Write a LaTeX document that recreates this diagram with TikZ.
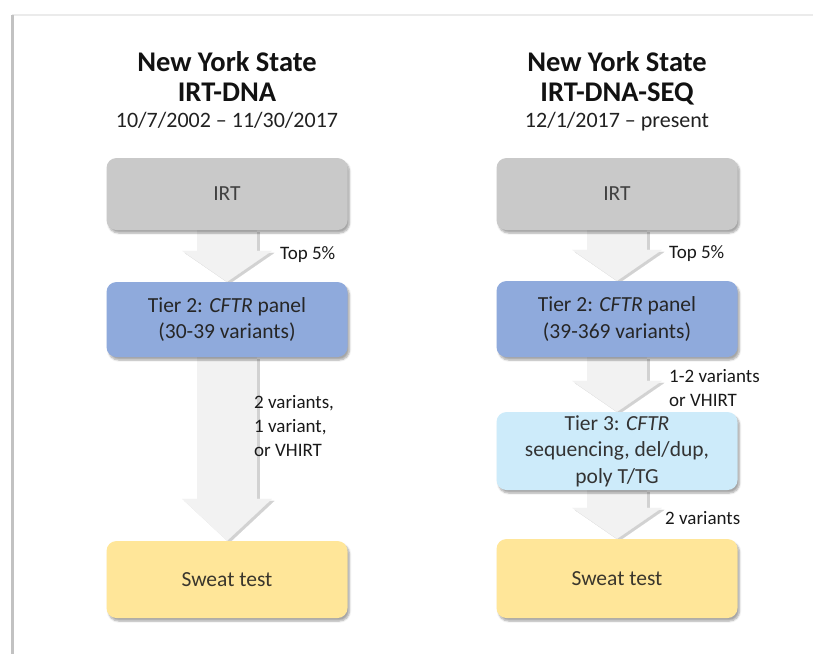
\documentclass[tikz,border=0pt]{standalone}
\usepackage{fontspec}
\setmainfont{Carlito}
\usetikzlibrary{arrows.meta,shadows.blur}
\pgfdeclarelayer{bg}
\pgfsetlayers{bg,main}

\definecolor{irtgrey}{HTML}{C9C9C9}
\definecolor{tiertwo}{HTML}{8FAADC}
\definecolor{tierthree}{HTML}{CDEBFA}
\definecolor{sweat}{HTML}{FFE699}
\definecolor{arrowfill}{HTML}{F2F2F2}
\definecolor{arrowshade}{HTML}{D2D2D2}
\definecolor{frameedge}{HTML}{C2C2C2}
\definecolor{frametop}{HTML}{EBEBEB}

\begin{document}
\begin{tikzpicture}[
  x=1pt, y=-1pt,
  box/.style={rounded corners=10pt, minimum width=241pt, minimum height=74pt,
    inner sep=2pt, align=center, font=\fontsize{21.5}{26.5}\selectfont,
    blur shadow={shadow xshift=2pt, shadow yshift=-3pt, shadow blur steps=6, shadow opacity=35}},
  head/.style={inner sep=0pt, font=\bfseries\fontsize{28.5}{30}\selectfont, text=black!93},
  span/.style={inner sep=0pt, font=\fontsize{22}{24}\selectfont, text=black!87},
  note/.style={inner sep=0pt, align=left, font=\fontsize{19}{24}\selectfont, text=black!90},
  flow/.style={line width=60pt, arrowfill, -{Triangle[width=90pt, length=#1, line width=0.01pt]}},
  flow/.default=31pt,
  flowshade/.style={flow=#1, arrowshade, transform canvas={xshift=2.5pt, yshift=-2pt}},
  flowshade/.default=31pt,
]

\def\colL{227}
\def\colR{617}

\useasboundingbox (0,0) rectangle (813,654);

% left column: IRT-DNA
\node[head, anchor=base] (titleLa) at (\colL,71)  {New York State};
\node[head, anchor=base] (titleLb) at (\colL,101) {IRT-DNA};
\node[span, anchor=base] (dateL)   at (\colL,127) {10/7/2002 -- 11/30/2017};

\node[box, fill=irtgrey, text=black!75, minimum height=72pt] (irtL)   at (\colL,194)   {IRT};
\node[box, fill=tiertwo, text=black!85, minimum height=75pt] (tierL)  at (\colL,319.5) {Tier 2: \textit{CFTR} panel\\(30-39 variants)};
\node[box, fill=sweat, text=black!78!olive, minimum height=77pt] (sweatL) at (\colL,579.5) {Sweat test};

\node[note, anchor=base west] (topL) at (280,259) {Top 5\%};
\node[note, anchor=west] (varL) at (254,426) {2 variants,\\1 variant,\\or VHIRT};

% right column: IRT-DNA-SEQ
\node[head, anchor=base] (titleRa) at (\colR,71)  {New York State};
\node[head, anchor=base] (titleRb) at (\colR,101) {IRT-DNA-SEQ};
\node[span, anchor=base] (dateR)   at (\colR,127) {12/1/2017 -- present};

\node[box, fill=irtgrey, text=black!75, minimum height=72pt] (irtR)    at (\colR,194) {IRT};
\node[box, fill=tiertwo, text=black!85, minimum height=76pt] (tierR)   at (\colR,319) {Tier 2: \textit{CFTR} panel\\(39-369 variants)};
\node[box, fill=tierthree, text=black!80, minimum height=78pt] (seqR)  at (\colR,451) {Tier 3: \textit{CFTR}\\sequencing, del/dup,\\poly T/TG};
\node[box, fill=sweat, text=black!78!olive, minimum height=79pt] (sweatR) at (\colR,578.5) {Sweat test};

\node[note, anchor=base west] (topR) at (669,258) {Top 5\%};
\node[note, anchor=west] (varR) at (669,388) {1-2 variants\\or VHIRT};
\node[note, anchor=base west] (twoR) at (665,524) {2 variants};

% block arrows and frame behind the boxes
\begin{pgfonlayer}{bg}
  \draw[frametop, line width=2pt] (12,15) -- (813,15);
  \draw[frameedge, line width=3pt] (12,15) -- (12,654);

  \draw[flowshade] (irtL) -- (tierL);
  \draw[flowshade=42pt] (tierL) -- (sweatL);
  \draw[flowshade] (irtR) -- (tierR);
  \draw[flowshade] (tierR) -- (seqR);
  \draw[flowshade] (seqR) -- (sweatR);

  \draw[flow] (irtL) -- (tierL);
  \draw[flow=42pt] (tierL) -- (sweatL);
  \draw[flow] (irtR) -- (tierR);
  \draw[flow] (tierR) -- (seqR);
  \draw[flow] (seqR) -- (sweatR);
\end{pgfonlayer}

\end{tikzpicture}
\end{document}
